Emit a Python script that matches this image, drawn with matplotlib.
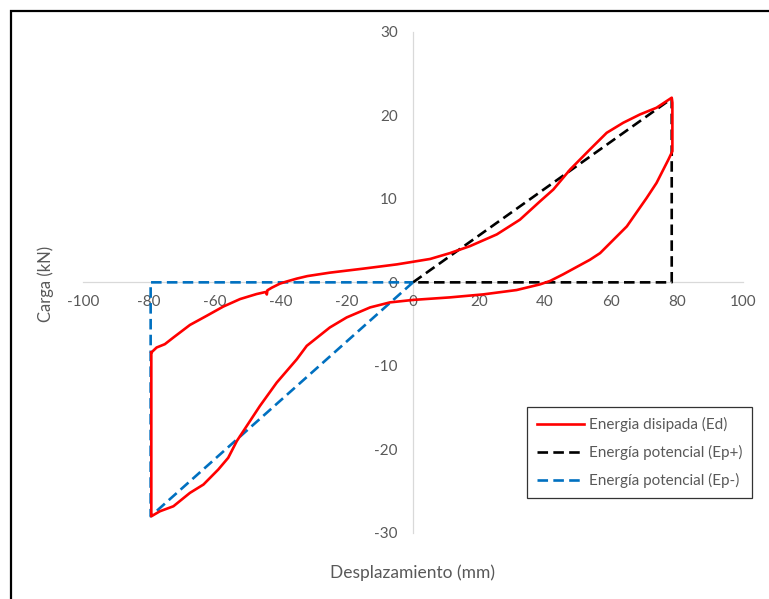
import matplotlib.pyplot as plt
from matplotlib.patches import Rectangle

# Energia disipada (hysteresis loop)
ed_x = [-79.3, -77.7, -75.2, -72.6, -67.6, -62.5, -57.5, -52.4, -47.4, -44.6, -44.3, -44.1,
        -42.8, -40.3, -38.3, -35.2, -32.0, -25.2, -15.1, -4.9, 0.1, 5.2, 11.2, 17.3, 25.4,
        32.4, 38.5, 42.5, 47.6, 53.6, 58.7, 63.7, 68.8, 73.8, 78.4, 78.6, 78.6, 77.4, 73.8,
        70.8, 64.8, 56.7, 53.6, 45.5, 41.5, 38.5, 31.4, 21.3, 11.2, 0.1, -7.0, -13.0, -20.1,
        -25.2, -32.2, -35.2, -41.3, -46.4, -50.4, -53.4, -56.0, -59.0, -63.5, -67.6, -72.6,
        -76.7, -79.3, -79.3]
ed_y = [-8.4, -7.8, -7.4, -6.6, -5.1, -4.0, -2.9, -2.0, -1.4, -1.15, -1.45, -0.95,
        -0.64, -0.15, 0.1, 0.45, 0.75, 1.16, 1.64, 2.15, 2.47, 2.8, 3.5, 4.34, 5.74,
        7.5, 9.7, 11.1, 13.5, 15.9, 17.9, 19.1, 20.1, 20.9, 22.1, 21.5, 15.7, 14.7, 11.9,
        10.1, 6.7, 3.5, 2.7, 0.96, 0.16, -0.24, -0.92, -1.44, -1.8, -2.1, -2.4, -3.0, -4.2,
        -5.4, -7.6, -9.2, -12.0, -14.8, -17.2, -19.0, -21.0, -22.4, -24.2, -25.2, -26.8,
        -27.4, -28.0, -8.4]

# Energia potencial (Ep+) triangle
epp_x = [0, 78.4, 78.4, 0]
epp_y = [0, 22.0, 0, 0]

# Energia potencial (Ep-) triangle
epn_x = [0, -79.5, -79.5, 0]
epn_y = [0, -28.0, 0, 0]

x_ticks = [-100, -80, -60, -40, -20, 0, 20, 40, 60, 80, 100]
y_ticks = [-30, -20, -10, 0, 10, 20, 30]

plt.rcParams['font.family'] = ['Lato', 'DejaVu Sans']
plt.rcParams['axes.unicode_minus'] = False
grey = '#595959'

fig = plt.figure(figsize=(7.69, 5.99), dpi=100)
ax = fig.add_axes([83 / 769, 66 / 599, 660 / 769, 501.3 / 599])

ax.plot(ed_x, ed_y, color='#FF0000', lw=1.9, label='Energia disipada (Ed)', zorder=3)
ax.plot(epp_x, epp_y, color='black', lw=1.9, ls=(0, (4, 2)), label='Energía potencial (Ep+)', zorder=2)
ax.plot(epn_x, epn_y, color='#0070C0', lw=1.9, ls=(0, (4, 2)), label='Energía potencial (Ep-)', zorder=2)

ax.set_xlim(-100, 100)
ax.set_ylim(-30, 30)
ax.set_xticks(x_ticks)
ax.set_yticks(y_ticks)

for side in ['top', 'right']:
    ax.spines[side].set_visible(False)
for side in ['left', 'bottom']:
    ax.spines[side].set_position(('data', 0))
    ax.spines[side].set_color('#D9D9D9')
    ax.spines[side].set_linewidth(0.9)
    ax.spines[side].set_zorder(1)

ax.tick_params(axis='both', length=0, labelsize=11, labelcolor=grey)
ax.tick_params(axis='x', pad=9)
ax.tick_params(axis='y', pad=11)

fig.text(46 / 769, 1 - 283.5 / 599, 'Carga (kN)', rotation=90, ha='center', va='center',
         fontsize=12, color=grey)
fig.text(412.5 / 769, 1 - 572.7 / 599, 'Desplazamiento (mm)', ha='center', va='center',
         fontsize=12.5, color=grey)

leg = ax.legend(loc='upper left', bbox_to_anchor=(527 / 769, 1 - 407 / 599),
                bbox_transform=fig.transFigure, borderaxespad=0, frameon=True,
                fancybox=False, fontsize=11, handlelength=3.1, handletextpad=0.3,
                labelspacing=0.85, borderpad=0.65, labelcolor=grey)
leg.get_frame().set_edgecolor('black')
leg.get_frame().set_linewidth(0.9)

# outer frame of the chart area
fig.patches.append(Rectangle((11 / 769, -0.2), 1.2, 1.2 - 11 / 599, transform=fig.transFigure,
                             fill=False, edgecolor='black', lw=1.6))

fig.savefig('out.png', dpi=100)
